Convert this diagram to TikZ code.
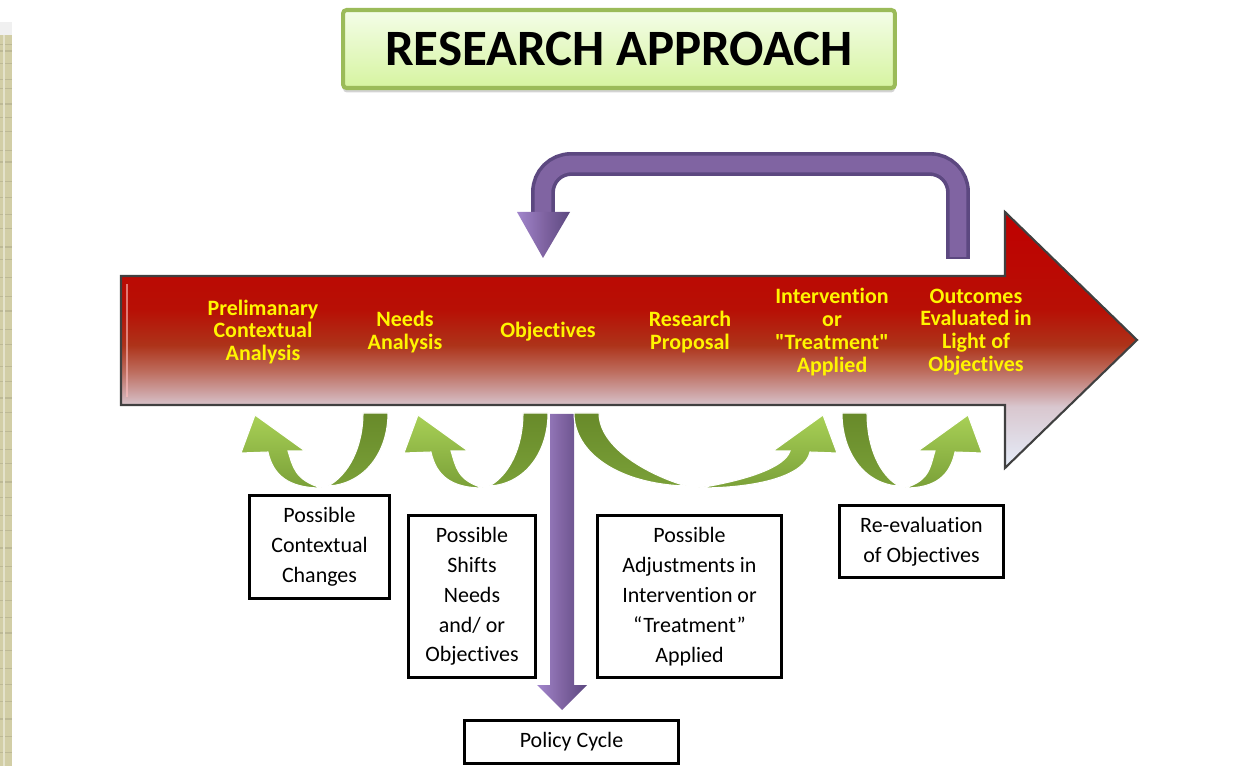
\documentclass[tikz,border=0pt]{standalone}
\usepackage{fontspec}
\setmainfont{Carlito}[Ligatures={NoCommon}]
\usetikzlibrary{shadows}

\definecolor{stepyellow}{RGB}{255,245,0}
\definecolor{titleedge}{RGB}{155,187,89}
\definecolor{titletop}{RGB}{244,253,232}
\definecolor{titlebot}{RGB}{214,244,160}
\definecolor{loopmid}{RGB}{128,100,162}
\definecolor{looplight}{RGB}{162,134,204}
\definecolor{loopdark}{RGB}{92,72,128}
\definecolor{leafdark}{RGB}{104,138,42}
\definecolor{leafmid}{RGB}{122,160,56}
\definecolor{leaflight}{RGB}{168,208,86}
\definecolor{paper}{RGB}{210,206,166}

% red to pale blend of the process arrow
\pgfdeclareverticalshading{redbar}{100bp}{%
  rgb(0bp)=(0.90,0.93,0.98); rgb(25bp)=(0.90,0.93,0.98);
  rgb(37bp)=(0.85,0.78,0.81); rgb(40bp)=(0.80,0.62,0.62);
  rgb(44bp)=(0.74,0.42,0.36); rgb(49bp)=(0.68,0.20,0.10);
  rgb(56bp)=(0.72,0.06,0.02); rgb(75bp)=(0.75,0,0); rgb(100bp)=(0.75,0,0)}

\tikzstyle{titlebox}=[draw=titleedge, line width=2.3pt, rounded corners=2pt, top color=titletop, bottom color=titlebot, minimum width=11.04cm, minimum height=1.56cm, font=\bfseries\fontsize{29}{34}\selectfont, drop shadow={shadow xshift=0pt, shadow yshift=-2.5pt, opacity=.35}]
\tikzstyle{steplabel}=[text=stepyellow, font=\bfseries\fontsize{12.5}{13}\selectfont, align=center, inner sep=0pt]
\tikzstyle{notebox}=[draw=black, line width=2pt, fill=white, align=center, inner sep=0pt, font=\fontsize{12.5}{17}\selectfont]
\tikzstyle{tail}=[draw=white, line width=.6pt, top color=leafdark, bottom color=leafmid]
\tikzstyle{band}=[draw=white, line width=.6pt, top color=leaflight, bottom color=leafmid]
\tikzstyle{pipe}=[left color=looplight, right color=loopdark, middle color=loopmid]

% green u-turn arrow: #1 outer edge of the tail, #2 span to the tip, #3 direction
\newcommand{\turnarrow}[3]{%
  \begin{scope}[shift={(#1,413)}, xscale=#3]
    \path[tail] (0,0) -- (25,0) .. controls (25,35) and ({0.3*#2},62) .. ({0.45*#2},73)
       .. controls ({0.18*#2},71) and (0,40) .. (0,0) -- cycle;
    \path[band] ({0.5*#2},75) .. controls ({0.75*#2},75) and ({#2-18},62) .. ({#2-13},39)
       -- ({#2+14},40) -- (#2,2) -- ({#2-50},38) -- ({#2-33},38)
       .. controls ({#2-38},54) and ({0.7*#2},67) .. ({0.5*#2},75) -- cycle;
  \end{scope}}

\begin{document}
\begin{tikzpicture}[x=0.02cm, y=-0.02cm]
    \useasboundingbox (0,0) rectangle (1258,766);

    % paper strip at the left edge
    \fill[black!6] (0,22) rectangle (12,35);
    \fill[paper] (0,35) rectangle (12,766);
    \foreach \y/\w in {44/.3,51/.6,63/.3,79/.5,88/.3,104/.7,117/.3,131/.4,150/.3,162/.6,181/.3,
        197/.5,214/.3,228/.4,247/.6,259/.3,277/.4,296/.3,311/.6,329/.3,344/.5,366/.3,381/.4,
        398/.6,412/.3,431/.5,449/.3,463/.4,482/.6,497/.3,515/.4,530/.3,548/.6,566/.3,581/.5,
        600/.3,617/.4,633/.6,650/.3,668/.5,684/.3,701/.4,719/.6,736/.3,752/.5}
        \draw[paper!90!black, line width=\w pt] (0,\y) -- (12,\y);
    \draw[paper!60!white, line width=1pt] (4,35) -- (4,766);

    % heading
    \node[titlebox] (title) at (619,49) {RESEARCH APPROACH};

    % the process arrow
    \shade[shading=redbar, draw=black!75, line width=1.2pt] (121,276) -- (1005,276) -- (1005,212)
        -- (1137,340) -- (1005,468) -- (1005,405) -- (121,405) -- cycle;
    \draw[red!25!white, opacity=.6, line width=1.3pt] (127,284) -- (127,397);

    % steps along the arrow
    \foreach \x/\name/\txt in {263/prelim/{Prelimanary\\Contextual\\Analysis}, 405/needs/{Needs\\Analysis},
        548/objectives/{Objectives}, 690/proposal/{Research\\Proposal},
        832/treatment/{Intervention\\or\\\textquotedbl Treatment\textquotedbl\\Applied}, 976/outcomes/{Outcomes\\Evaluated in\\Light of\\Objectives}}
        \node[steplabel] (\name) at (\x,332) {\txt};

    % loop from the outcomes back to the objectives
    \coordinate (loopStart) at (958,259);
    \coordinate (loopEnd) at (543,214);
    \draw[loopdark, line width=13.6pt, rounded corners=0.56cm] (loopStart) -- (958,164) -- (543,164) -- (loopEnd);
    \draw[loopmid, line width=9.5pt, rounded corners=0.56cm] (958,257) -- (958,164) -- (543,164) -- (543,216);
    \shade[pipe] (517,212) -- (570,212) -- (543,258) -- cycle;

    % down to the policy cycle
    \shade[pipe] (550,414) -- (574,414) -- (574,685) -- (587,685) -- (562,710) -- (537,685) -- (550,685) -- cycle;

    % green feedback arrows under the steps
    \turnarrow{388}{133}{-1}
    \turnarrow{548}{130}{-1}
    \turnarrow{574}{249}{1}
    \turnarrow{842}{126}{1}

    % notes
    \node[notebox, minimum width=2.8cm, minimum height=2.06cm] (context) at (319.5,547) {Possible\\Contextual\\Changes};
    \node[notebox, minimum width=2.54cm, minimum height=3.24cm] (shifts) at (472,596.5) {Possible\\Shifts\\Needs\\and/ or\\Objectives};
    \node[notebox, minimum width=3.68cm, minimum height=3.24cm] (adjust) at (689.5,596.5) {Possible\\Adjustments in\\Intervention or\\“Treatment”\\Applied};
    \node[notebox, minimum width=3.28cm, minimum height=1.44cm] (reeval) at (921.5,541.5) {Re-evaluation\\of Objectives};
    \node[notebox, minimum width=4.28cm, minimum height=0.86cm] (policy) at (571.5,742) {Policy Cycle};
\end{tikzpicture}
\end{document}
